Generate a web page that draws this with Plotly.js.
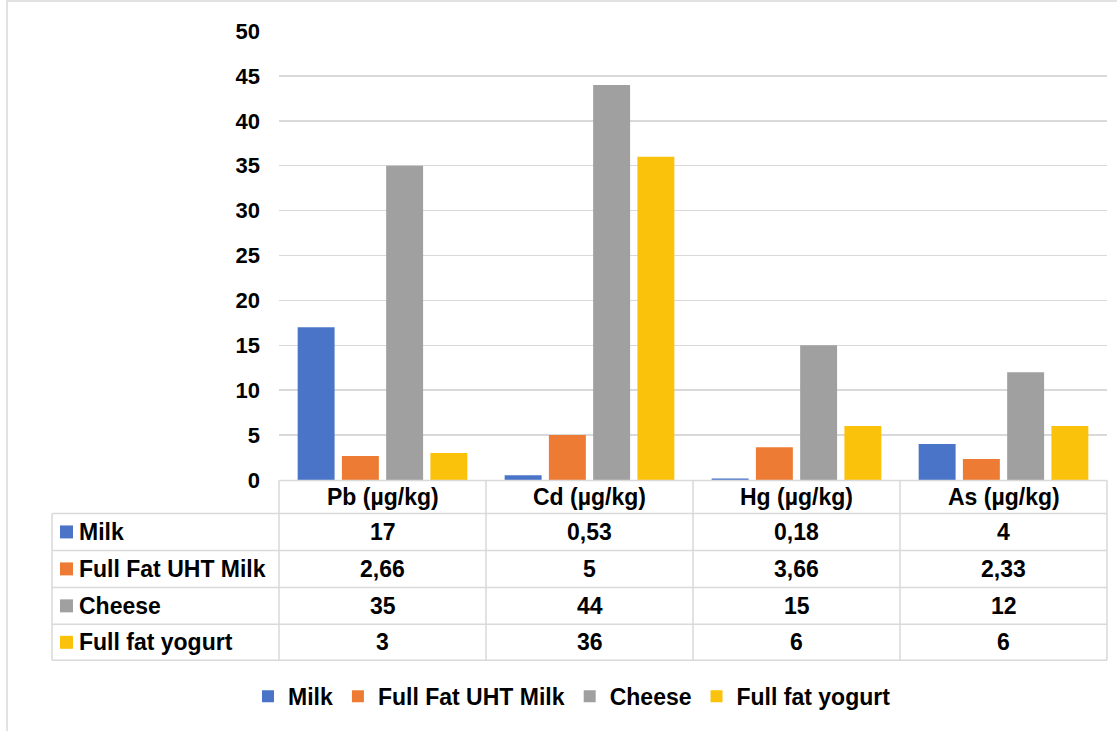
<!DOCTYPE html>
<html>
<head>
<meta charset="utf-8">
<script src="https://cdn.plot.ly/plotly-3.0.1.min.js"></script>
<style>html,body{margin:0;padding:0;background:#fff;}#chart{width:1117px;height:731px;}</style>
</head>
<body>
<div id="chart"></div>
<script>
// ---- data ----
const categories = ["Pb (µg/kg)", "Cd (µg/kg)", "Hg (µg/kg)", "As (µg/kg)"];
const seriesNames = ["Milk", "Full Fat UHT Milk", "Cheese", "Full fat yogurt"];
const milk = [17, 0.53, 0.18, 4];
const uhtMilk = [2.66, 5, 3.66, 2.33];
const cheese = [35, 44, 15, 12];
const yogurt = [3, 36, 6, 6];
const yTicks = [0, 5, 10, 15, 20, 25, 30, 35, 40, 45, 50];

// ---- styles ----
const seriesValues = [milk, uhtMilk, cheese, yogurt];
const colors = ["#4A74C8", "#EE7B33", "#A0A0A0", "#FBC20C"];
const FONT = "Liberation Sans, Arial, sans-serif";
const GRID = "#d9d9d9";

// plot area in pixels
const L = 279, R = 1107, T = 31, B = 480.5;
const xp = px => (px - L) / (R - L);
const yp = py => (B - py) / (B - T);

const n = categories.length;
const colX = [];
for (let i = 0; i <= n; i++) colX.push(L + i * (R - L) / n);
const tableLeft = 52;
const rowY = [481, 514, 551, 588, 625, 661];
const fmt = v => String(v).replace('.', ',');

const traces = seriesNames.map((name, k) => ({
  type: 'bar',
  name: name,
  x: categories,
  y: seriesValues[k],
  marker: {color: colors[k]},
  hoverinfo: 'skip'
}));

const shapes = [];
const annotations = [];
const line = {color: GRID, width: 1.5};

// outer chart border
shapes.push({type: 'rect', xref: 'paper', yref: 'paper',
  x0: xp(7), x1: xp(1125), y0: yp(1), y1: yp(740),
  line: {color: GRID, width: 1.5}, fillcolor: 'rgba(0,0,0,0)', layer: 'below'});

// table horizontal lines
shapes.push({type: 'line', xref: 'paper', yref: 'paper', x0: xp(L), x1: xp(R), y0: yp(rowY[0]), y1: yp(rowY[0]), line: line});
for (let r = 1; r < rowY.length; r++) {
  shapes.push({type: 'line', xref: 'paper', yref: 'paper', x0: xp(tableLeft), x1: xp(R), y0: yp(rowY[r]), y1: yp(rowY[r]), line: line});
}
// table vertical lines
shapes.push({type: 'line', xref: 'paper', yref: 'paper', x0: xp(tableLeft), x1: xp(tableLeft), y0: yp(rowY[1]), y1: yp(rowY[rowY.length - 1]), line: line});
colX.forEach(x => {
  shapes.push({type: 'line', xref: 'paper', yref: 'paper', x0: xp(x), x1: xp(x), y0: yp(rowY[0]), y1: yp(rowY[rowY.length - 1]), line: line});
});

const tfont = {family: FONT, size: 23, color: '#000', weight: 'bold'};
// header
categories.forEach((c, i) => {
  annotations.push({xref: 'paper', yref: 'paper', x: xp((colX[i] + colX[i + 1]) / 2), y: yp((rowY[0] + rowY[1]) / 2),
    text: c, showarrow: false, xanchor: 'center', yanchor: 'middle', font: tfont});
});
// rows
seriesNames.forEach((name, k) => {
  const yc = (rowY[k + 1] + rowY[k + 2]) / 2;
  shapes.push({type: 'rect', xref: 'paper', yref: 'paper', x0: xp(60), x1: xp(73), y0: yp(yc - 6.5), y1: yp(yc + 6.5),
    fillcolor: colors[k], line: {width: 0}});
  annotations.push({xref: 'paper', yref: 'paper', x: xp(77), y: yp(yc), text: name, showarrow: false,
    xanchor: 'left', yanchor: 'middle', font: tfont});
  seriesValues[k].forEach((v, i) => {
    annotations.push({xref: 'paper', yref: 'paper', x: xp((colX[i] + colX[i + 1]) / 2), y: yp(yc),
      text: fmt(v), showarrow: false, xanchor: 'center', yanchor: 'middle', font: tfont});
  });
});

const layout = {
  width: 1117, height: 731,
  margin: {l: L, r: 1117 - R, t: T, b: 731 - B, pad: 0},
  paper_bgcolor: '#fff', plot_bgcolor: '#fff',
  barmode: 'group', bargap: 0.145, bargroupgap: 0.165,
  showlegend: true,
  legend: {orientation: 'h', x: xp(572), xanchor: 'center', y: yp(697), yanchor: 'middle',
    font: {family: FONT, size: 23, color: '#000', weight: 'bold'}, itemwidth: 30, traceorder: 'normal'},
  xaxis: {type: 'category', showticklabels: false, showgrid: false, zeroline: false, showline: false, ticks: '', fixedrange: true},
  yaxis: {range: [0, 50], tickvals: yTicks, ticktext: yTicks.map(String), showgrid: true, gridcolor: GRID, gridwidth: 1.5,
    zeroline: false, showline: false, ticks: '', ticklabelstandoff: 18,
    tickfont: {family: FONT, size: 22, color: '#000', weight: 'bold'}, fixedrange: true},
  shapes: shapes,
  annotations: annotations,
  hovermode: false
};

Plotly.newPlot('chart', traces, layout, {staticPlot: true, displayModeBar: false});
</script>
</body>
</html>
